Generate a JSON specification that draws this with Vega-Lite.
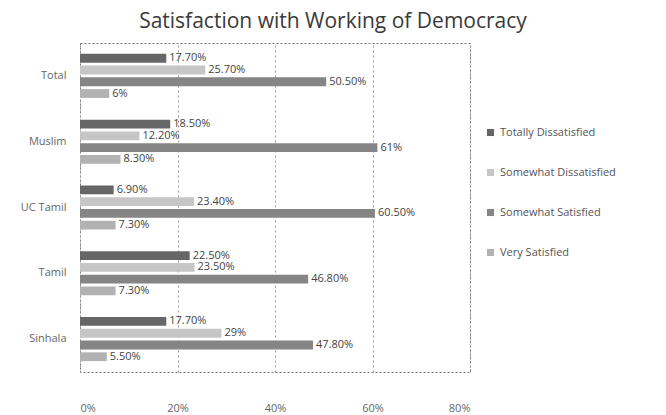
{
  "$schema": "https://vega.github.io/schema/vega-lite/v6.json",
  "width": 390,
  "height": 329,
  "autosize": {"type": "none"},
  "padding": {"left": 80, "top": 43, "right": 196, "bottom": 43},
  "background": "white",
  "title": {
    "text": "Satisfaction with Working of Democracy",
    "anchor": "middle",
    "dx": 58,
    "offset": 11,
    "fontSize": 21,
    "font": "Open Sans",
    "fontWeight": "normal",
    "color": "#3a3a3a"
  },
  "config": {
    "view": {"stroke": "#777", "strokeDash": [2, 2], "strokeWidth": 1},
    "font": "Open Sans"
  },
  "data": {
    "values": [
      {"group": "Total", "level": "Totally Dissatisfied", "value": 17.7},
      {"group": "Total", "level": "Somewhat Dissatisfied", "value": 25.7},
      {"group": "Total", "level": "Somewhat Satisfied", "value": 50.5},
      {"group": "Total", "level": "Very Satisfied", "value": 6},
      {"group": "Muslim", "level": "Totally Dissatisfied", "value": 18.5},
      {"group": "Muslim", "level": "Somewhat Dissatisfied", "value": 12.2},
      {"group": "Muslim", "level": "Somewhat Satisfied", "value": 61},
      {"group": "Muslim", "level": "Very Satisfied", "value": 8.3},
      {"group": "UC Tamil", "level": "Totally Dissatisfied", "value": 6.9},
      {"group": "UC Tamil", "level": "Somewhat Dissatisfied", "value": 23.4},
      {"group": "UC Tamil", "level": "Somewhat Satisfied", "value": 60.5},
      {"group": "UC Tamil", "level": "Very Satisfied", "value": 7.3},
      {"group": "Tamil", "level": "Totally Dissatisfied", "value": 22.5},
      {"group": "Tamil", "level": "Somewhat Dissatisfied", "value": 23.5},
      {"group": "Tamil", "level": "Somewhat Satisfied", "value": 46.8},
      {"group": "Tamil", "level": "Very Satisfied", "value": 7.3},
      {"group": "Sinhala", "level": "Totally Dissatisfied", "value": 17.7},
      {"group": "Sinhala", "level": "Somewhat Dissatisfied", "value": 29},
      {"group": "Sinhala", "level": "Somewhat Satisfied", "value": 47.8},
      {"group": "Sinhala", "level": "Very Satisfied", "value": 5.5}
    ]
  },
  "transform": [
    {"calculate": "(datum.value % 1 == 0 ? format(datum.value, 'd') : format(datum.value, '.2f')) + '%'", "as": "label"}
  ],
  "encoding": {
    "y": {
      "field": "group",
      "type": "nominal",
      "sort": ["Total", "Muslim", "UC Tamil", "Tamil", "Sinhala"],
      "scale": {"paddingInner": 0.33, "paddingOuter": 0.165},
      "axis": {
        "title": null,
        "domain": false,
        "ticks": false,
        "labelPadding": 14,
        "labelFontSize": 11,
        "labelColor": "#666",
        "labelFont": "Open Sans"
      }
    },
    "yOffset": {
      "field": "level",
      "type": "nominal",
      "sort": ["Totally Dissatisfied", "Somewhat Dissatisfied", "Somewhat Satisfied", "Very Satisfied"],
      "scale": {"paddingInner": 0.25, "paddingOuter": 0}
    },
    "x": {
      "field": "value",
      "type": "quantitative",
      "scale": {"domain": [0, 80], "nice": false},
      "axis": {
        "title": null,
        "values": [0, 20, 40, 60, 80],
        "labelExpr": "datum.value + '%'",
        "domain": false,
        "ticks": false,
        "grid": true,
        "gridDash": [2, 3],
        "gridColor": "#999",
        "labelPadding": 30,
        "labelFontSize": 11,
        "labelColor": "#666",
        "labelFont": "Open Sans"
      }
    }
  },
  "layer": [
    {
      "mark": {"type": "bar"},
      "encoding": {
        "color": {
          "field": "level",
          "type": "nominal",
          "sort": ["Totally Dissatisfied", "Somewhat Dissatisfied", "Somewhat Satisfied", "Very Satisfied"],
          "scale": {
            "domain": ["Totally Dissatisfied", "Somewhat Dissatisfied", "Somewhat Satisfied", "Very Satisfied"],
            "range": ["#666666", "#c6c6c6", "#858585", "#b2b2b2"]
          },
          "legend": {
            "title": null,
            "orient": "none",
            "legendX": 405,
            "legendY": 84,
            "symbolType": "square",
            "symbolSize": 50,
            "symbolStrokeWidth": 0,
            "rowPadding": 28,
            "labelFontSize": 11,
            "labelColor": "#555",
            "labelFont": "Open Sans",
            "labelLimit": 200
          }
        }
      }
    },
    {
      "mark": {"type": "text", "align": "left", "baseline": "middle", "dx": 3, "fontSize": 11, "color": "#444", "font": "Open Sans"},
      "encoding": {
        "text": {"field": "label"}
      }
    }
  ]
}
